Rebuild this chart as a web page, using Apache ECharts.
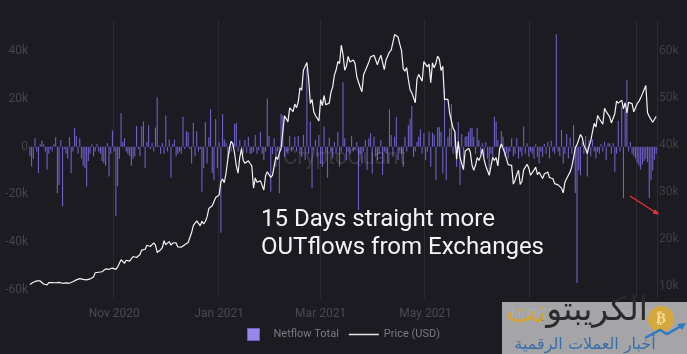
<!DOCTYPE html>
<html>
<head>
<meta charset="utf-8">
<script src="https://cdn.jsdelivr.net/npm/echarts@6/dist/echarts.min.js"></script>
<style>
html, body { margin: 0; padding: 0; background: #1c1b21; }
#chart { width: 687px; height: 354px; }
</style>
</head>
<body>
<div id="chart"></div>
<script>
// daily values from 2020-09-13 to 2021-09-12, in thousands
var startDate = [2020, 8, 13];

var netflowK = [
	-4, -8.3, -5, 3.5, -2, -11, 1, 2.5, 1, -2,
	-9.5, -3, -1, -2, 1, 4, -19.5, -16, 2.8, -25,
	-1, -3, -5, 4, -11, -2, 7.8, 4.5, -3, 3.5,
	-5, -8, -9, -16.7, -6, -3, 1, -4, -2, 1,
	-2, -3, -6, -7, -8, 1.5, -12.5, -3, 6.8, -2,
	-29, -16.5, -5, 14, 2, 3.5, -2, -3, -4, -8,
	-5, -4, 8.7, -1, -4, 8.4, 10.5, -9, 2, 9,
	-1, 1.5, -2, 8, 20.6, 0.5, -3, 1.5, -3, 13,
	-2, 3, -13, 1, 3, -4, -3, -2, -3, 12.5,
	-1, 6.5, 6, -1, -7, 10, -4, 6.5, -2, -1,
	-18.8, -9, 10.3, -7, 4, 15.7, -11, -14, 11.6, -9,
	2, -36, 13.7, 3, 1.7, -5, -3, -2, 1, 9.5,
	10, -2, 2.8, -2.8, -3, 2.8, -2.5, 4.2, -3, -2.8,
	-2, 4.9, -3, -1.5, 6.3, -3, -5.6, -2, 20.2, 4.5,
	-18.8, -3, 3.5, -8.4, -2, -19.5, 13.7, 13.2, -4.2, -2,
	-3, 4.5, -2, -1, 4.2, -2, 4.5, -2.8, -4.2, 4.9,
	-5.6, 32.7, -3, 10.5, -17.4, -2, 2.8, -4.2, 4.9, -7,
	-8.4, 8.4, -3, -13, 3.8, -2, -4.9, 2, -3, 6.3,
	-8.4, -2, 27, 3.5, -5.6, -2, -3, 4.5, -2, -1,
	2, -26.5, -3, -7, -2, 2.8, -9.8, 3.5, 5.6, -11.2,
	4.2, -4.2, -5.6, -3, 2.8, -11.8, -2, -3, -7, 15.6,
	4.9, -4.2, 4.2, 12.3, -5.6, -2, -3, -8.4, 4.2, -2,
	9, 11.8, 17, -4.2, -2, 2, 4.2, 7.3, -2.8, 5.6,
	-5.6, -2, 6.3, -8.4, 5.9, 4.9, -14, 8.1, 8.1, 6.3,
	-11.2, 24, -14, 4.2, 7.7, 17.8, -3, 6.3, -8.4, 10.3,
	-16, 5.3, -7, 4.2, 4.5, 6.3, 7.7, 8, 4.2, -3,
	7.7, 2.8, -3, 1.4, -4, 2, -5, -11.8, -3, -4.2,
	12.5, 10.5, 2.8, -3, 6.5, 4.2, -4, -3, -5, -2,
	3.5, -4, -3, 3.5, -5, -2, -4, 8.4, -3, 1.4,
	-4.2, -2, -3, -5, 1, -4.2, -7, -2, -4.2, 1.1,
	-3, 2, -4.9, 2.5, -2, -3, 47, -2, -4, 7,
	-7, -3, 5.3, -4.9, 3.8, -3, 9, -19.4, -57, -10,
	-12, 2, -3, 4.5, -12.5, 2.8, -4, 3, -2, -4.9,
	-2, -3, 1.1, -2, 2, -5.6, 1.4, 1.4, -3, 1.4,
	-10.5, -3, 10.9, -2, 16.7, -21.6, 15, 27.9, -2, 2,
	-3, -4, -5, -6.7, -8, -9.5, -7.5, -6, -5, -6.5,
	-21.5, -14, -10, -5.5, -3
];

var priceK = [
	10.33, 10.68, 10.79, 10.95, 11.09, 10.94, 11.08, 10.92, 10.42, 10.54, 10.24, 10.74, 10.69, 10.73, 10.77, 10.70, 10.84, 10.78,
	10.62, 10.58, 10.55, 10.67, 10.79, 10.60, 10.67, 10.92, 11.06, 11.30, 11.38, 11.56, 11.43, 11.43, 11.51, 11.32, 11.37, 11.51, 11.75, 11.92,
	12.82, 12.97, 12.93, 13.11, 13.03, 13.07, 13.65, 13.27, 13.56, 13.80, 13.80,
	13.76, 13.55, 14.03, 14.13, 15.58, 15.57, 14.83, 15.48, 15.33, 15.30, 15.70, 16.28, 16.32, 16.07, 15.96, 16.72, 17.65, 17.80, 17.82, 18.68,
	18.71, 18.41, 18.36, 19.17, 18.72, 17.15, 17.14, 17.72, 18.18, 19.63,
	18.80, 19.20, 19.45, 18.70, 19.15, 19.36, 19.17, 18.32, 18.55, 18.26, 18.06, 18.80, 19.14, 19.25, 19.44, 21.38, 22.84, 23.11, 23.87, 23.48,
	22.80, 23.78, 23.24, 23.73, 24.71, 26.49, 26.28, 27.08, 27.36, 28.84, 29.00,
	29.37, 32.13, 32.78, 31.97, 33.99, 36.82, 39.37, 40.80, 40.25, 38.24, 35.54, 34.00, 37.39, 39.19, 36.77, 36.10, 35.79, 36.63, 36.07, 35.55,
	30.83, 32.99, 32.07, 32.29, 32.37, 32.57, 30.43, 33.47, 34.32, 34.32, 33.11,
	33.54, 35.51, 37.47, 36.93, 38.29, 39.27, 38.90, 46.20, 46.48, 44.92, 47.91, 47.50, 47.11, 48.72, 47.94, 49.20, 52.15, 51.68, 55.89, 56.10,
	57.54, 54.21, 48.82, 49.71, 47.07, 46.28, 46.11, 45.14,
	49.63, 48.38, 50.54, 48.56, 48.93, 48.91, 51.21, 52.38, 54.88, 55.96, 57.77, 57.33, 61.24, 59.30, 55.90, 56.80, 58.87, 57.65, 58.03, 58.10,
	57.35, 54.53, 54.20, 52.30, 51.30, 55.03, 55.84, 55.78, 57.63, 58.73, 58.92,
	59.10, 59.00, 57.08, 58.21, 59.12, 57.60, 56.03, 58.09, 58.20, 59.77, 60.20, 59.79, 63.50, 63.11, 62.98, 61.47, 60.10, 56.25, 55.72, 56.47,
	53.91, 51.76, 51.09, 50.05, 49.00, 54.02, 55.03, 54.82, 53.56, 57.75,
	57.83, 56.63, 57.21, 53.24, 57.47, 56.43, 57.38, 58.93, 58.28, 55.86, 56.77, 49.70, 49.93, 49.72, 46.76, 46.46, 43.54, 42.91, 37.00, 40.78,
	37.30, 37.54, 34.77, 38.71, 38.40, 39.29, 38.44, 35.70, 34.62, 35.68, 37.33,
	36.69, 37.58, 39.19, 36.89, 35.55, 35.86, 33.56, 33.40, 37.39, 36.69, 37.33, 35.55, 39.10, 40.22, 40.41, 38.35, 38.09, 35.82, 35.48, 35.66,
	31.68, 32.51, 33.68, 34.66, 31.59, 32.28, 34.70, 34.49, 35.91, 35.04,
	33.57, 33.90, 34.66, 35.29, 33.69, 34.22, 33.86, 32.88, 33.81, 33.52, 34.26, 33.09, 32.73, 32.82, 31.78, 31.42, 31.52, 31.78, 30.82, 29.81,
	32.11, 32.31, 33.58, 34.29, 35.38, 37.27, 39.46, 40.03, 40.02, 42.24, 41.63,
	39.97, 39.20, 38.15, 39.75, 40.87, 42.82, 44.61, 43.82, 46.29, 45.60, 45.59, 44.43, 47.79, 47.10, 47.05, 46.00, 44.70, 44.80, 46.72, 49.34,
	48.91, 49.32, 49.55, 47.71, 48.99, 46.85, 49.07, 48.90, 48.81, 47.05, 47.17,
	48.85, 49.29, 50.03, 49.94, 51.77, 52.66, 46.86, 46.05, 46.40, 44.85, 45.16, 46.06
];

var leftTicks = [-60, -40, -20, 0, 20, 40];
var rightTicks = [10, 20, 30, 40, 50, 60];
var monthNames = ['Jan', 'Feb', 'Mar', 'Apr', 'May', 'Jun', 'Jul', 'Aug', 'Sep', 'Oct', 'Nov', 'Dec'];

// category labels, one per day
var days = [];
for (var i = 0; i < netflowK.length; i++) {
	var d = new Date(Date.UTC(startDate[0], startDate[1], startDate[2] + i));
	days.push(d.getUTCFullYear() + '-' + (d.getUTCMonth() + 1) + '-' + d.getUTCDate());
}

function isMarked(idx, val) {
	var p = val.split('-');
	return p[2] === '1' && (+p[1]) % 2 === 1;
}

var myChart = echarts.init(document.getElementById('chart'));

var option = {
	backgroundColor: '#1c1b21',
	animation: false,
	textStyle: {fontFamily: 'Roboto'},
	grid: {left: 29, right: 30, top: 20, bottom: 56, outerBoundsMode: 'none'},
	legend: {
		bottom: 8,
		left: 'center',
		itemWidth: 30,
		itemHeight: 12,
		itemGap: 10,
		symbolKeepAspect: true,
		textStyle: {color: '#7b7a80', fontSize: 11, fontFamily: 'Roboto'},
		data: [
			{name: 'Netflow Total', icon: 'path://M0,0h10v10h-10z', itemStyle: {color: '#9787ea', borderColor: '#6d5fc0', borderWidth: 1}},
			{name: 'Price (USD)', icon: 'path://M0,0h30v1.5h-30z', itemStyle: {color: '#e8e8e8'}}
		]
	},
	xAxis: {
		type: 'category',
		data: days,
		boundaryGap: true,
		axisLine: {show: false},
		axisTick: {show: false},
		axisLabel: {
			interval: isMarked,
			color: '#4a4950',
			margin: 10,
			fontFamily: 'Roboto',
			fontSize: 12,
			formatter: function (val) {
				var p = val.split('-');
				return monthNames[+p[1] - 1] + ' ' + p[0];
			}
		},
		splitLine: {show: true, interval: isMarked, lineStyle: {color: '#2c2b31', width: 1}}
	},
	yAxis: [
		{
			type: 'value',
			min: -63.3,
			max: 53,
			axisLine: {show: false},
			axisTick: {show: false, customValues: leftTicks},
			splitLine: {show: false},
			axisLabel: {
				customValues: leftTicks,
				color: '#45444a',
				margin: 1,
				fontFamily: 'Roboto',
				fontSize: 12,
				formatter: function (v) { return v === 0 ? '0' : v + 'k'; }
			}
		},
		{
			type: 'value',
			position: 'right',
			min: 7.45,
			max: 66.6,
			axisLine: {show: false},
			axisTick: {show: false, customValues: rightTicks},
			splitLine: {show: false},
			axisLabel: {
				customValues: rightTicks,
				color: '#403f45',
				margin: 2,
				fontFamily: 'Roboto',
				fontSize: 12,
				formatter: function (v) { return v + 'k'; }
			}
		}
	],
	series: [
		{
			name: 'Netflow Total',
			type: 'bar',
			yAxisIndex: 0,
			barWidth: 1.1,
			itemStyle: {color: '#6f5fc8'},
			data: netflowK,
			z: 2
		},
		{
			name: 'Price (USD)',
			type: 'line',
			yAxisIndex: 1,
			symbol: 'none',
			lineStyle: {color: '#f2f2f2', width: 1.2},
			itemStyle: {color: '#f2f2f2'},
			data: priceK,
			z: 4
		}
	],
	graphic: [
		{
			type: 'text', x: 283, y: 158, z: 3, silent: true,
			style: {text: 'CryptoQuant', font: '22px Roboto', fill: 'rgba(255,255,255,0.12)', verticalAlign: 'middle'}
		},
		{
			type: 'text', x: 261, y: 205.5, z: 10,
			style: {text: '15 Days straight more\nOUTflows from Exchanges', font: '24px Roboto', lineHeight: 28, fill: '#f4f4f4'}
		},
		{
			type: 'line', z: 10,
			shape: {x1: 630, y1: 196, x2: 655, y2: 212},
			style: {stroke: '#e8333d', lineWidth: 1.3}
		},
		{
			type: 'polygon', z: 10,
			shape: {points: [[659.5, 214.5], [652.6, 213.4], [655.2, 209.2]]},
			style: {fill: '#e8333d'}
		},
		{
			type: 'rect', z: 20,
			shape: {x: 502, y: 302, width: 185, height: 52},
			style: {fill: 'rgba(200,200,202,0.8)'}
		},
		{
			type: 'circle', z: 21,
			shape: {cx: 661, cy: 319, r: 13},
			style: {fill: '#d5a83e'}
		},
		{
			type: 'text', z: 22, x: 661, y: 319,
			style: {text: '₿', font: 'bold 15px "DejaVu Sans"', fill: '#f2da94', align: 'center', verticalAlign: 'middle'}
		},
		{
			type: 'polyline', z: 22,
			shape: {points: [[645, 338], [660, 330], [667, 334], [681, 326]]},
			style: {stroke: '#2f7ac4', lineWidth: 2.5, fill: null}
		},
		{
			type: 'polygon', z: 22,
			shape: {points: [[686, 323], [677, 324], [682, 330]]},
			style: {fill: '#2f7ac4'}
		},
		{
			type: 'text', z: 22, x: 648, y: 328,
			style: {text: 'الكريبتو', font: '33px "DejaVu Sans"', fill: '#2a2a2c', align: 'right', verticalAlign: 'bottom'}
		},
		{
			type: 'text', z: 22, x: 537, y: 328,
			style: {text: '.', font: '28px "DejaVu Sans"', fill: '#2a2a2c', align: 'left', verticalAlign: 'bottom'}
		},
		{
			type: 'text', z: 22, x: 506, y: 330,
			style: {text: 'نت', font: '32px "DejaVu Sans"', fill: '#d3a43c', align: 'left', verticalAlign: 'bottom'}
		},
		{
			type: 'text', z: 22, x: 585, y: 345,
			style: {text: 'أخبار العملات الرقمية', font: '16px "DejaVu Sans"', fill: '#3a6ea8', align: 'center', verticalAlign: 'middle'}
		}
	]
};

myChart.setOption(option);
</script>
</body>
</html>
